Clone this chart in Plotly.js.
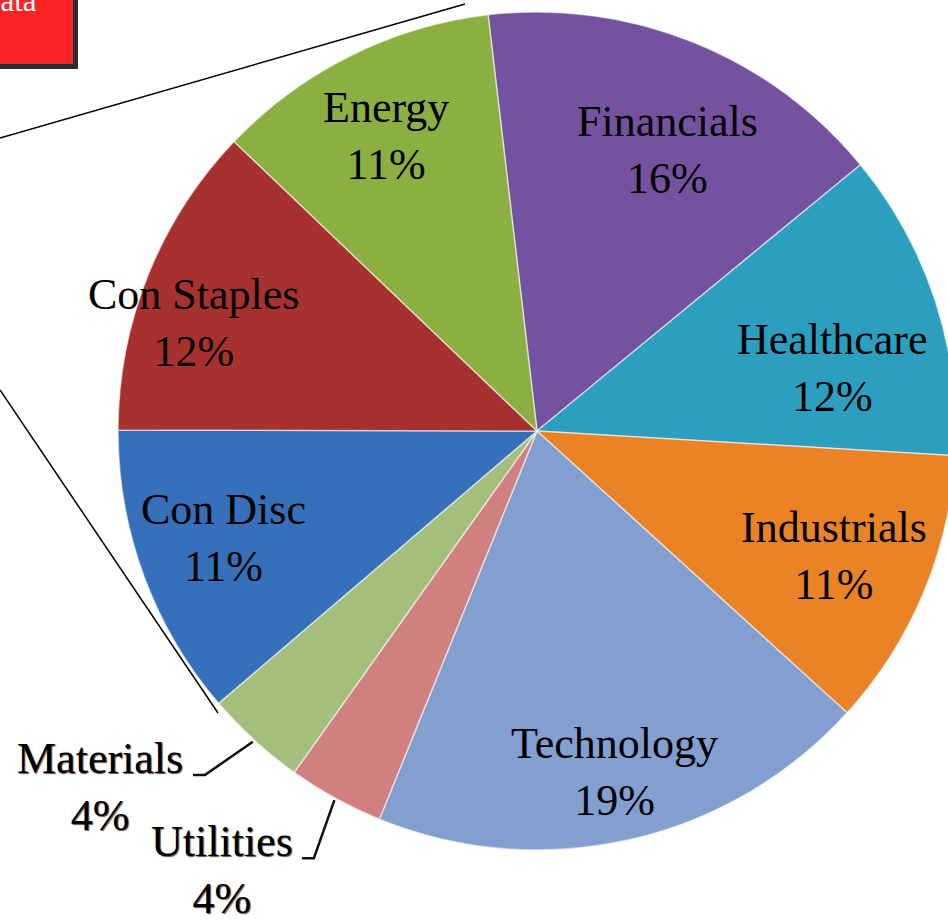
<!DOCTYPE html>
<html>
<head>
<meta charset="utf-8">
<script src="https://cdn.plot.ly/plotly-3.0.1.min.js"></script>
<style>
html, body { margin: 0; padding: 0; overflow: hidden; background: #ffffff; }
#chart { width: 1000px; height: 922px; }
</style>
</head>
<body>
<div id="chart"></div>
<script>
// Sector weights (percent), clockwise from the top
const sectors = ["Financials", "Healthcare", "Industrials", "Technology", "Utilities", "Materials", "Con Disc", "Con Staples", "Energy"];
const weights = [15.9, 11.9, 10.8, 19.4, 3.7, 3.9, 11.3, 12.1, 11.0];
const sliceColors = ["#7552a0", "#2c9fc0", "#ea8226", "#829fd0", "#d18080", "#a3bf7b", "#3670ba", "#a6312e", "#8caf42"];

// label placement (style): radius as fraction of pie radius, angular shift in degrees
const labelRadius = [0.74, 0.72, 0.77, 0.835, 1.29, 1.345, 0.79, 0.86, 0.79];
const labelShift = [3, 6, 0, 0, 6.9, 8.4, 1.3, -4.5, -0.6];
const outsideLabel = [false, false, false, false, true, true, false, false, false];

const W = 1000, H = 922;
const CX = 537, CY = 431, R = 419;
const ROT = -6.7;
const px = v => v / W;
const py = v => 1 - v / H;
const FONT = "Liberation Serif, Times New Roman, serif";

const total = weights.reduce((a, b) => a + b, 0);
const annotations = [];
const shapes = [
  { type: "line", xref: "paper", yref: "paper", x0: px(0), y0: py(138), x1: px(465), y1: py(4), line: { color: "#000000", width: 1.5 } },
  { type: "line", xref: "paper", yref: "paper", x0: px(0), y0: py(390), x1: px(218), y1: py(713), line: { color: "#000000", width: 1.5 } },
  { type: "rect", xref: "paper", yref: "paper", x0: px(-5), y0: py(-5), x1: px(78), y1: py(69), fillcolor: "#2e2e2e", line: { width: 0 } },
  { type: "rect", xref: "paper", yref: "paper", x0: px(-5), y0: py(-5), x1: px(73), y1: py(64), fillcolor: "#fb2424", line: { width: 0 } }
];

let cum = 0;
weights.forEach((w, i) => {
  const mid = ROT + (cum + w / 2) / total * 360;
  cum += w;
  const a = (mid + labelShift[i]) * Math.PI / 180;
  const lx = CX + labelRadius[i] * R * Math.sin(a);
  const ly = CY - labelRadius[i] * R * Math.cos(a);
  const pct = Math.round(w / total * 100);
  annotations.push({
    text: sectors[i] + "<br>" + pct + "%",
    xref: "paper", yref: "paper", x: px(lx), y: py(ly),
    xanchor: "center", yanchor: "middle", showarrow: false, align: "center",
    font: { family: FONT, size: 44, color: "#000000", shadow: outsideLabel[i] ? "1px 1px 1px #555" : "none" }
  });
  if (outsideLabel[i]) {
    const am = mid * Math.PI / 180;
    const ex = CX + R * 1.005 * Math.sin(am);
    const ey = CY - R * 1.005 * Math.cos(am);
    const halfW = i === 5 ? 93 : 80;
    const bx = lx + halfW + 12, by = ly - 12;
    const tx = lx + halfW, ty = ly - 12;
    shapes.push({
      type: "path", xref: "paper", yref: "paper",
      path: "M" + px(ex) + "," + py(ey) + " L" + px(bx) + "," + py(by) + " L" + px(tx) + "," + py(ty),
      line: { color: "#111111", width: 2.5 }
    });
  }
});

annotations.push({ text: "Data", xref: "paper", yref: "paper", x: px(-24), y: py(20), xanchor: "left", yanchor: "bottom", showarrow: false,
  font: { family: FONT, size: 31, color: "#ffffff" } });

const trace = {
  type: "pie",
  labels: sectors,
  values: weights,
  sort: false,
  direction: "clockwise",
  rotation: ROT,
  marker: { colors: sliceColors, line: { color: "rgba(255,255,255,0.55)", width: 1.5 } },
  textinfo: "none",
  domain: { x: [px(CX - R), px(CX + R)], y: [py(CY + R), py(CY - R)] },
  hoverinfo: "label+percent",
  showlegend: false
};

const layout = {
  width: W,
  height: H,
  margin: { l: 0, r: 0, t: 0, b: 0 },
  paper_bgcolor: "#ffffff",
  showlegend: false,
  shapes: shapes,
  annotations: annotations
};

Plotly.newPlot("chart", [trace], layout, { displayModeBar: false, staticPlot: true });
</script>
</body>
</html>
